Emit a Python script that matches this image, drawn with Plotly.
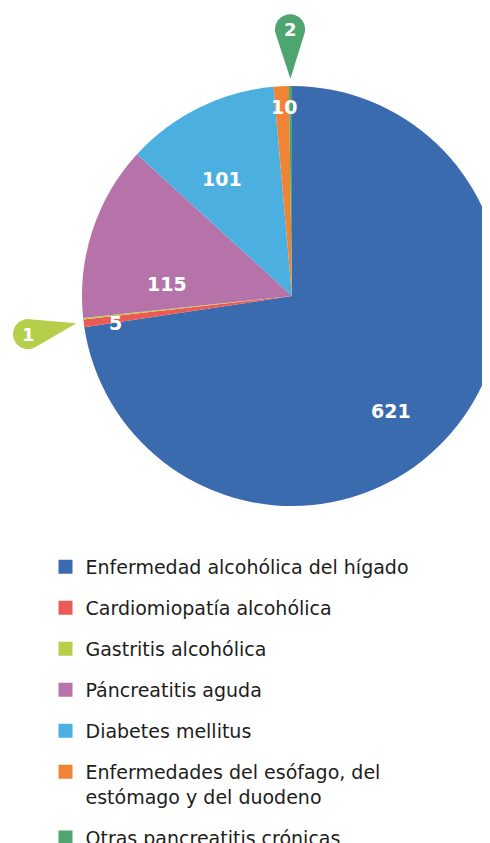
import math
import plotly.graph_objects as go

# ---------------- data ----------------
categories = [
    "Enfermedad alcohólica del hígado",
    "Cardiomiopatía alcohólica",
    "Gastritis alcohólica",
    "Páncreatitis aguda",
    "Diabetes mellitus",
    "Enfermedades del esófago, del<br>estómago y del duodeno",
    "Otras pancreatitis crónicas",
]
values = [621, 5, 1, 115, 101, 10, 2]

# ---------------- style ----------------
colors = ["#3A6BAE", "#EC5A55", "#B5CF4A", "#B673AA", "#4BAFDF", "#EF8436", "#4EA56F"]
label_mode = ["in", "in", "pin", "in", "in", "in", "pin"]
label_rfrac = [0.72, 0.85, None, 0.60, 0.65, 0.90, None]
label_dang = [8.5, -1.2, 0, -12.7, -4.3, 0.6, 0]
pin_dang = [0, 0, -2.0, 0, 0, 0, 0]
PIN_TIP = 1.035
PIN_HEAD = 1.27
PIN_R = 15
FONT = "DejaVu Sans"

W, H = 500, 860
CX, CY, R = 284, 288, 210

total = sum(values)
starts = []
acc = 0
for v in values:
    starts.append(acc)
    acc += v
mids = [(s + v / 2) / total * 360 for s, v in zip(starts, values)]


def polar(ang, d):
    a = math.radians(ang)
    return CX + d * math.sin(a), CY - d * math.cos(a)


fig = go.Figure()
fig.add_trace(go.Pie(
    labels=categories, values=values, sort=False, direction="clockwise", rotation=0,
    marker=dict(colors=colors, line=dict(width=0)),
    textinfo="none", hoverinfo="label+value", showlegend=False,
    domain=dict(x=[(CX - R) / W, (CX + R) / W], y=[1 - (CY + R) / H, 1 - (CY - R) / H]),
))

# legend entries
for i, (c, col) in enumerate(zip(categories, colors)):
    fig.add_trace(go.Scatter(
        x=[None], y=[None], mode="markers", name=c, legendgroup=str(i),
        marker=dict(symbol="square", size=14, color=col), showlegend=True,
        hoverinfo="skip",
    ))

annotations = []
shapes = []
for i, v in enumerate(values):
    if label_mode[i] == "in":
        x, y = polar(mids[i] + label_dang[i], label_rfrac[i] * R)
        annotations.append(dict(x=x, y=y, xref="x", yref="y", text=str(v), showarrow=False,
                                font=dict(family=FONT, size=19, color="white", weight="bold")))
    else:
        cx, cy = polar(mids[i] + pin_dang[i], PIN_HEAD * R)
        tx, ty = polar(mids[i] + pin_dang[i] / 2, PIN_TIP * R)
        alpha = math.atan2(ty - cy, tx - cx)
        D = math.hypot(tx - cx, ty - cy)
        phi = math.acos(PIN_R / D)
        pts = []
        n = 40
        for k in range(n + 1):
            t = alpha + phi + (2 * math.pi - 2 * phi) * k / n
            pts.append((cx + PIN_R * math.cos(t), cy + PIN_R * math.sin(t)))
        path = "M %.2f,%.2f " % (tx, ty) + " ".join("L %.2f,%.2f" % p for p in pts) + " Z"
        shapes.append(dict(type="path", path=path, xref="x", yref="y",
                           fillcolor=colors[i], line=dict(width=0), layer="above"))
        annotations.append(dict(x=cx, y=cy, xref="x", yref="y", text=str(v), showarrow=False,
                                font=dict(family=FONT, size=18, color="white", weight="bold")))

fig.update_layout(
    width=W, height=H,
    margin=dict(l=0, r=0, t=0, b=0),
    paper_bgcolor="white", plot_bgcolor="rgba(0,0,0,0)",
    font=dict(family=FONT, color="#1d1d1b"),
    xaxis=dict(range=[0, W], visible=False, fixedrange=True, domain=[0, 1]),
    yaxis=dict(range=[H, 0], visible=False, fixedrange=True, domain=[0, 1]),
    shapes=shapes, annotations=annotations,
    showlegend=True,
    legend=dict(x=37.5 / W, xanchor="left", y=1 - 540 / H, yanchor="top",
                font=dict(family=FONT, size=19, color="#1d1d1b"),
                tracegroupgap=13.3, valign="top", itemsizing="trace",
                bgcolor="rgba(0,0,0,0)", borderwidth=0),
)

fig.write_html("out.html")
